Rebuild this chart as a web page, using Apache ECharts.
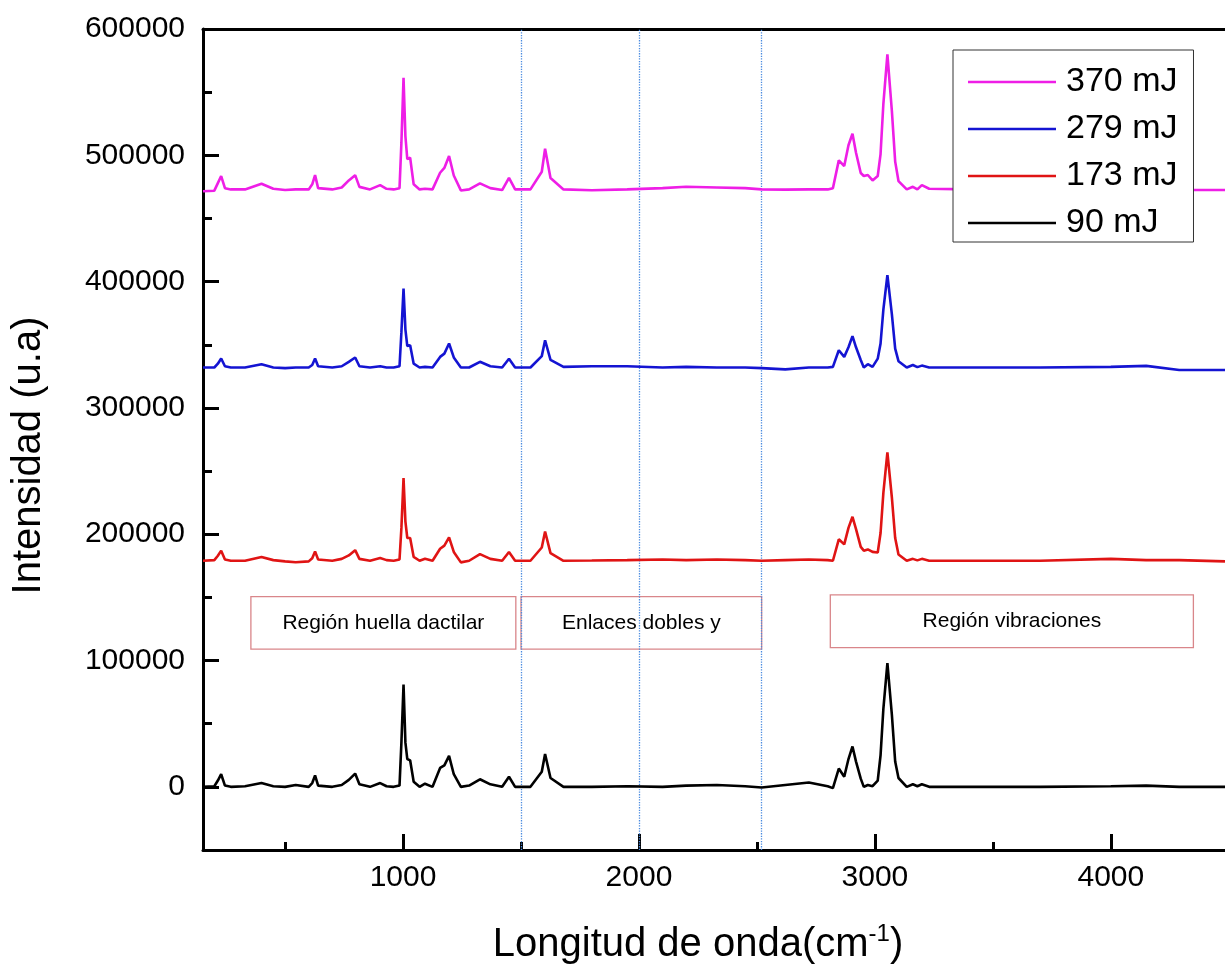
<!DOCTYPE html>
<html>
<head>
<meta charset="utf-8">
<script src="https://cdn.jsdelivr.net/npm/echarts@6/dist/echarts.min.js"></script>
<style>
html,body{margin:0;padding:0;background:#fff;}
#chart{width:1225px;height:965px;}
</style>
</head>
<body>
<div id="chart"></div>
<script>
// ---- data ----
const wavenumbers = [
  152, 200, 215, 229, 245, 270, 330, 400, 450, 500,
  545, 600, 615, 627, 640, 700, 740, 770, 797, 815,
  860, 903, 930, 960, 985, 993, 1002, 1010, 1018, 1030,
  1045, 1070, 1093, 1125, 1157, 1175, 1195, 1215, 1245, 1280,
  1326, 1370, 1420, 1449, 1475, 1540, 1588, 1602, 1625, 1680,
  1800, 1950, 2100, 2200, 2330, 2450, 2520, 2620, 2720, 2800,
  2822, 2847, 2870, 2888, 2905, 2920, 2940, 2953, 2970, 2990,
  3012, 3024, 3036, 3053, 3072, 3086, 3100, 3135, 3161, 3180,
  3199, 3230, 3400, 3700, 4000, 4150, 4290, 4484
];
const int90mJ = [
  0, 500, 5000, 10000, 1000, 0, 500, 3000, 500, 0,
  1500, 0, 3000, 9000, 1000, 0, 1500, 5500, 10500, 2000,
  0, 3000, 500, 0, 1000, 35000, 81000, 35000, 22000, 21000,
  4000, 0, 2500, 0, 15000, 17000, 24500, 10000, 0, 1000,
  6000, 2000, 0, 8000, 0, 0, 12000, 26000, 7000, 0,
  0, 500, 0, 1000, 1500, 500, -500, 1500, 3500, 500,
  -1000, 14500, 8000, 22000, 32000, 20000, 6500, 0, 1500, 500,
  5000, 25000, 62000, 98000, 57000, 20000, 7000, 0, 2000, 500,
  2000, 0, 0, 0, 500, 1000, 0, 0
];
const int173mJ = [
  179000, 179500, 183000, 187000, 180000, 179000, 179000, 182000, 179500, 178500,
  177800, 178500, 181000, 186400, 180000, 179000, 180500, 183200, 187400, 180500,
  179000, 181100, 179500, 179000, 180000, 205000, 244500, 210000, 197000, 197000,
  182000, 179000, 180600, 179000, 188500, 191000, 197500, 186000, 177700, 179000,
  184300, 180500, 179000, 185900, 179000, 179000, 189500, 202200, 185000, 179000,
  179200, 179500, 180000, 179500, 180000, 179500, 179000, 179500, 180000, 179500,
  179000, 196000, 192000, 205000, 213800, 204000, 190000, 187000, 188000, 186000,
  185500, 201000, 233000, 264800, 229000, 197000, 184000, 179000, 180500, 179300,
  180500, 179000, 179000, 179000, 180500, 179500, 179500, 178500
];
const int279mJ = [
  332000, 332000, 335000, 339100, 333000, 332000, 332000, 334600, 332000, 331500,
  332000, 332000, 334000, 339100, 333000, 332000, 333000, 336500, 339900, 333000,
  332000, 333000, 332000, 332000, 333000, 360000, 394500, 362000, 349000, 349700,
  335000, 332000, 332500, 332000, 340400, 343000, 351000, 340000, 332000, 332000,
  336500, 333000, 332000, 338900, 332000, 332000, 341000, 353600, 338000, 332500,
  333000, 333000, 332000, 332500, 332000, 332000, 331500, 330500, 332000, 332000,
  332500, 345700, 340400, 348000, 356800, 348000, 338000, 332000, 334600, 332500,
  339000, 351000, 378000, 405100, 374000, 347000, 337000, 332000, 334000, 332300,
  333500, 332000, 332000, 332000, 332500, 333300, 330000, 330000
];
const int370mJ = [
  471500, 472000, 478000, 483600, 474000, 473000, 473000, 477500, 473500, 472500,
  473000, 473000, 477000, 484300, 474000, 473000, 474500, 480100, 484300, 475000,
  473000, 476400, 473500, 473000, 474000, 510000, 561400, 515000, 497000, 498100,
  477000, 473000, 473500, 473000, 486200, 490000, 499400, 484000, 472200, 473000,
  477800, 474000, 472500, 482200, 473000, 473000, 487000, 505200, 482000, 473000,
  472300, 473000, 474000, 475100, 474500, 474000, 473000, 472800, 473000, 473000,
  474000, 496000, 491500, 508000, 517100, 502000, 486000, 483600, 484400, 480100,
  483600, 501000, 541000, 579900, 535000, 495000, 479600, 473000, 475100, 473000,
  476400, 473500, 473000, 473000, 473000, 473000, 472500, 472500
];
const seriesNames = ['370 mJ', '279 mJ', '173 mJ', '90 mJ'];
const seriesColors = ['#ee1ee6', '#1414d2', '#e01414', '#000000'];
const xMin = 152, xMax = 4484;
const yMin = -50000, yMax = 600000;
const xMajorTicks = [1000, 2000, 3000, 4000];
const xMinorTicks = [500, 1500, 2500, 3500];
const yMajorTicks = [0, 100000, 200000, 300000, 400000, 500000, 600000];
const yMinorTicks = [50000, 150000, 250000, 350000, 450000, 550000];
const regionLines = [1500, 2000, 2520];
const regionLabels = ['Región huella dactilar', 'Enlaces dobles y', 'Región vibraciones'];
const regionX = [[355, 1478], [1500, 2520], [2811, 4350]];
const regionY = [[109000, 150600], [109000, 150600], [110300, 152000]];

// ---- chart ----
const FONT = 'Arial, "Liberation Sans", sans-serif';
const seriesData = [int370mJ, int279mJ, int173mJ, int90mJ];
const pairs = vals => wavenumbers.map((w, i) => [w, vals[i]]);
const plain = v => String(v);

const series = seriesNames.map((name, i) => ({
  name: name,
  type: 'line',
  xAxisIndex: 0,
  yAxisIndex: 0,
  data: pairs(seriesData[i]),
  symbol: 'none',
  showSymbol: false,
  smooth: false,
  lineStyle: { color: seriesColors[i], width: 2.6 },
  itemStyle: { color: seriesColors[i] },
  emphasis: { disabled: true },
  z: 3
}));

// dotted region separators
series[3].markLine = {
  silent: true,
  symbol: ['none', 'none'],
  label: { show: false },
  lineStyle: { type: 'dotted', color: '#4a8be0', width: 1.3, opacity: 1 },
  emphasis: { disabled: true },
  data: regionLines.map(v => ({ xAxis: v })),
  z: 2
};
// region label boxes
series[3].markArea = {
  silent: true,
  itemStyle: { color: 'rgba(255,255,255,0)', borderColor: '#d9868a', borderWidth: 1.3 },
  label: { show: true, position: 'inside', color: '#000', fontSize: 21, fontFamily: FONT },
  emphasis: { disabled: true },
  data: regionLabels.map((t, i) => [
    { name: t, xAxis: regionX[i][0], yAxis: regionY[i][1] },
    { xAxis: regionX[i][1], yAxis: regionY[i][0] }
  ])
};

const axisLineStyle = { color: '#000', width: 3 };

const option = {
  animation: false,
  backgroundColor: '#fff',
  grid: { left: 203, right: 0, top: 29, bottom: 115, containLabel: false, outerBoundsMode: 'none' },
  legend: {
    data: seriesNames,
    orient: 'vertical',
    left: 953,
    top: 50,
    backgroundColor: '#fff',
    borderColor: '#333',
    borderWidth: 1,
    padding: [15, 16, 2, 15],
    itemGap: 13,
    icon: 'rect',
    itemWidth: 88,
    itemHeight: 2.5,
    selectedMode: false,
    textStyle: { fontSize: 34, lineHeight: 32, color: '#000', fontFamily: FONT, padding: [0, 0, 0, 5] },
    z: 10
  },
  xAxis: [
    {
      type: 'value', min: xMin, max: xMax, position: 'bottom',
      axisLine: { show: true, onZero: false, lineStyle: axisLineStyle },
      axisTick: { show: true, inside: true, length: 16, customValues: xMajorTicks, lineStyle: { color: '#000', width: 3 } },
      axisLabel: { show: true, customValues: xMajorTicks, formatter: plain, fontSize: 30, color: '#000', margin: 13, fontFamily: FONT },
      splitLine: { show: false },
      name: 'Longitud de onda(cm{sup|-1})',
      nameLocation: 'middle',
      nameGap: 72,
      nameTextStyle: {
        fontSize: 40, color: '#000', fontFamily: FONT, lineHeight: 46, padding: [0, 32, 0, 0],
        rich: { sup: { fontSize: 24, lineHeight: 26, verticalAlign: 'top', color: '#000', fontFamily: FONT } }
      }
    },
    {
      type: 'value', min: xMin, max: xMax, position: 'bottom',
      axisLine: { show: false, onZero: false },
      axisTick: { show: true, inside: true, length: 8, customValues: xMinorTicks, lineStyle: { color: '#000', width: 3 } },
      axisLabel: { show: false },
      splitLine: { show: false }
    },
    {
      type: 'value', min: xMin, max: xMax, position: 'top',
      axisLine: { show: true, onZero: false, lineStyle: axisLineStyle },
      axisTick: { show: false },
      axisLabel: { show: false },
      splitLine: { show: false }
    }
  ],
  yAxis: [
    {
      type: 'value', min: yMin, max: yMax, position: 'left',
      axisLine: { show: true, onZero: false, lineStyle: axisLineStyle },
      axisTick: { show: true, inside: true, length: 16, customValues: yMajorTicks, lineStyle: { color: '#000', width: 3 } },
      axisLabel: { show: true, customValues: yMajorTicks, formatter: plain, fontSize: 30, color: '#000', margin: 18, fontFamily: FONT },
      splitLine: { show: false },
      name: 'Intensidad (u.a)',
      nameLocation: 'middle',
      nameRotate: 90,
      nameGap: 154,
      nameTextStyle: { fontSize: 40, color: '#000', fontFamily: FONT, padding: [0, 32, 0, 0] }
    },
    {
      type: 'value', min: yMin, max: yMax, position: 'left',
      axisLine: { show: false, onZero: false },
      axisTick: { show: true, inside: true, length: 9, customValues: yMinorTicks, lineStyle: { color: '#000', width: 3 } },
      axisLabel: { show: false },
      splitLine: { show: false }
    }
  ],
  series: series
};

const chart = echarts.init(document.getElementById('chart'), null, { renderer: 'canvas' });
chart.setOption(option);
</script>
</body>
</html>
